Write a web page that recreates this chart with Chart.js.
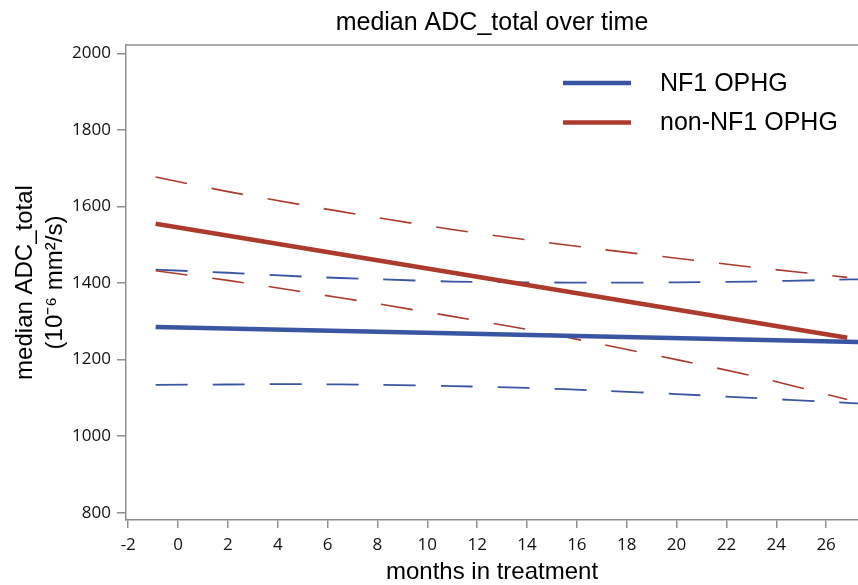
<!DOCTYPE html>
<html><head><meta charset="utf-8">
<script src="https://cdn.jsdelivr.net/npm/chart.js@4.4.0/dist/chart.umd.min.js"></script>
<style>html,body{margin:0;padding:0;background:#fff;}</style>
</head><body>
<canvas id="c" width="858" height="585"></canvas>
<script>
// ---- data ----
const chartTitle = 'median ADC_total over time';
const xTitle = 'months in treatment';
const yTitle = ['median ADC_total', '(10\u207B\u2076 mm\u00B2/s)'];
const seriesNames = ['NF1 OPHG', 'non-NF1 OPHG'];
const xTickValues = [-2, 0, 2, 4, 6, 8, 10, 12, 14, 16, 18, 20, 22, 24, 26];
const yTickValues = [800, 1000, 1200, 1400, 1600, 1800, 2000];

const nf1Months = [-0.9, 28];
const nf1Fit = [1285, 1245];
const nf1BandMonths = [-0.9, 2, 5, 8, 11, 14, 17, 20, 23, 26, 28];
const nf1Upper = [1435, 1427, 1417, 1410, 1404, 1402, 1401, 1402, 1404, 1408, 1411];
const nf1Lower = [1134, 1135, 1136, 1134, 1131, 1126, 1119, 1110, 1100, 1090, 1083];

const nonNf1Months = [-0.9, 26.85];
const nonNf1Fit = [1555, 1257];
const nonNf1BandMonths = [-0.9, 2, 5, 8, 11, 14, 17, 20, 23, 26.85];
const nonNf1Upper = [1677, 1639, 1604, 1571, 1540, 1513, 1488, 1465, 1442, 1415];
const nonNf1Lower = [1432, 1407, 1377, 1346, 1313, 1279, 1240, 1200, 1158, 1096];

// ---- styling ----
const BLUE = '#3A55A4';
const RED = '#AC3A2D';
const AXIS = '#8f8f8f';
const pts = (xs, ys) => xs.map((x, i) => ({x: x, y: ys[i]}));

const lineDs = (label, data, color, width, dash) => ({
  label, data, borderColor: color, backgroundColor: color,
  borderWidth: width, borderDash: dash || [], pointRadius: 0,
  tension: dash ? 0.3 : 0, fill: false
});

const datasets = [
  lineDs(seriesNames[1], pts(nonNf1Months, nonNf1Fit), RED, 4.5),
  lineDs(seriesNames[0], pts(nf1Months, nf1Fit), BLUE, 4.5),
  lineDs(seriesNames[1] + ' upper', pts(nonNf1BandMonths, nonNf1Upper), RED, 1.6, [32, 25]),
  lineDs(seriesNames[1] + ' lower', pts(nonNf1BandMonths, nonNf1Lower), RED, 1.6, [32, 25]),
  lineDs(seriesNames[0] + ' upper', pts(nf1BandMonths, nf1Upper), BLUE, 1.8, [32, 25]),
  lineDs(seriesNames[0] + ' lower', pts(nf1BandMonths, nf1Lower), BLUE, 1.8, [32, 25])
];

const framePlugin = {
  id: 'frameLegend',
  afterDraw(chart) {
    const {ctx, chartArea: a} = chart;
    ctx.save();
    ctx.strokeStyle = AXIS;
    ctx.lineWidth = 1.5;
    ctx.beginPath();
    ctx.moveTo(a.left, a.top);
    ctx.lineTo(a.right, a.top);
    ctx.stroke();
    const items = [[seriesNames[0], BLUE], [seriesNames[1], RED]];
    ctx.font = '25px "Liberation Sans"';
    ctx.textBaseline = 'middle';
    ctx.fillStyle = '#000';
    items.forEach((it, i) => {
      const y = a.top + 38 + i * 39.5;
      ctx.strokeStyle = it[1];
      ctx.lineWidth = 4.5;
      ctx.beginPath();
      ctx.moveTo(a.left + 437, y);
      ctx.lineTo(a.left + 505, y);
      ctx.stroke();
      ctx.fillText(it[0], a.left + 534, y + 1);
    });
    ctx.restore();
  }
};

new Chart(document.getElementById('c'), {
  type: 'line',
  data: {datasets},
  options: {
    responsive: false,
    animation: false,
    devicePixelRatio: 1,
    layout: {padding: 0},
    plugins: {
      legend: {display: false},
      tooltip: {enabled: false},
      title: {
        display: true, text: chartTitle, fullSize: false, color: '#000',
        font: {family: 'Liberation Sans', size: 25, weight: 'normal', lineHeight: 1.2},
        padding: {top: 8, bottom: 7}
      }
    },
    scales: {
      x: {
        type: 'linear', min: -2.09, max: 27.28,
        afterBuildTicks: s => { s.ticks = xTickValues.map(v => ({value: v})); },
        afterFit: s => { s.height = 65; },
        border: {color: AXIS, width: 1.5},
        grid: {drawOnChartArea: false, drawTicks: true, tickLength: 8, color: AXIS, tickColor: AXIS, lineWidth: 1.5},
        ticks: {font: {family: 'Open Sans', size: 17}, color: '#111', padding: 7, maxRotation: 0,
          callback: v => String(v)},
        title: {display: true, text: xTitle, color: '#000',
          font: {family: 'Liberation Sans', size: 24, lineHeight: 1.2}, padding: {top: 0, bottom: -2}}
      },
      y: {
        type: 'linear', min: 781, max: 2022,
        afterBuildTicks: s => { s.ticks = yTickValues.map(v => ({value: v})); },
        afterFit: s => { s.width = 126; },
        border: {color: AXIS, width: 1.5},
        grid: {drawOnChartArea: false, drawTicks: true, tickLength: 9, color: AXIS, tickColor: AXIS, lineWidth: 1.5},
        ticks: {font: {family: 'Open Sans', size: 17}, color: '#111', padding: 6,
          callback: v => String(v)},
        title: {display: true, text: yTitle, color: '#000',
          font: {family: 'Liberation Sans', size: 24, lineHeight: 1.25}, padding: {top: 10, bottom: 0}}
      }
    }
  },
  plugins: [framePlugin]
});
</script>
</body></html>
